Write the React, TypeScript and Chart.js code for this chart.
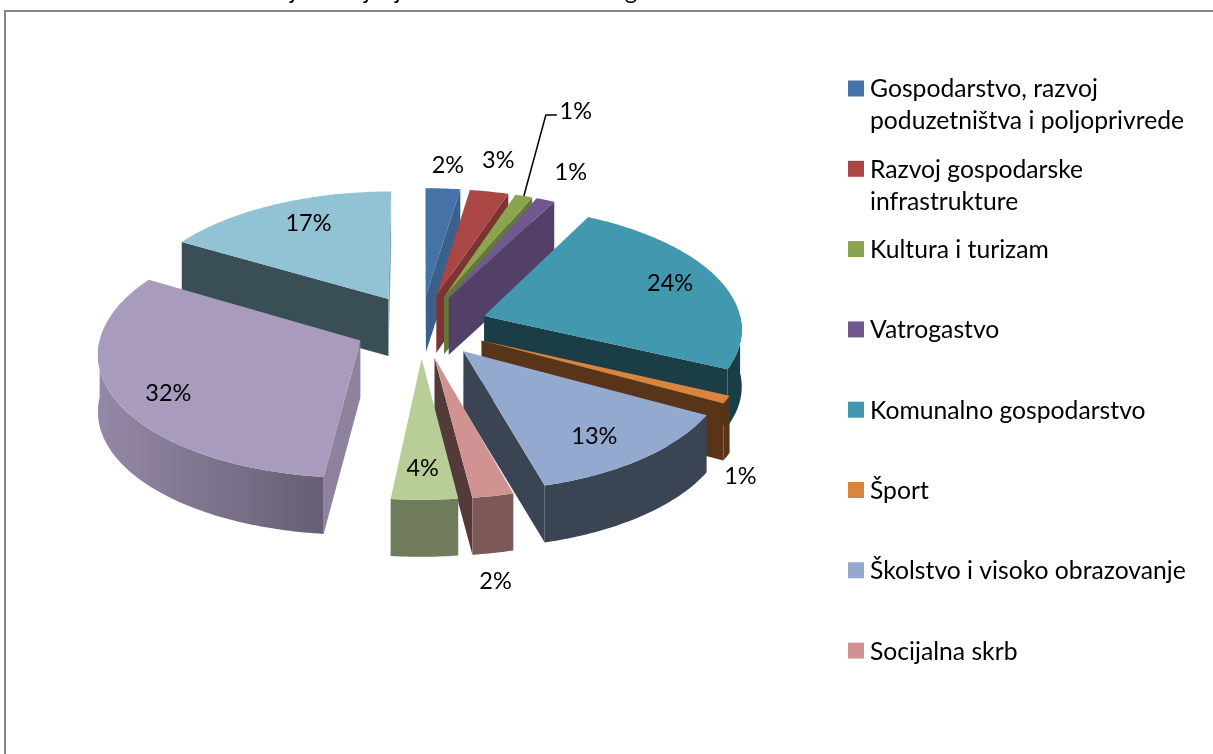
import React, { useEffect, useRef } from "react";
import { Chart, registerables } from "chart.js";

Chart.register(...registerables);

const categories = [
  "Gospodarstvo, razvoj poduzetništva i poljoprivrede",
  "Razvoj gospodarske infrastrukture",
  "Kultura i turizam",
  "Vatrogastvo",
  "Komunalno gospodarstvo",
  "Šport",
  "Školstvo i visoko obrazovanje",
  "Socijalna skrb",
  "",
  "",
  "",
];
const legendLines = [
  ["Gospodarstvo, razvoj", "poduzetništva i poljoprivrede"],
  ["Razvoj gospodarske", "infrastrukture"],
  ["Kultura i turizam"],
  ["Vatrogastvo"],
  ["Komunalno gospodarstvo"],
  ["Šport"],
  ["Školstvo i visoko obrazovanje"],
  ["Socijalna skrb"],
];
const shares = [2.4, 2.7, 1.2, 1.3, 24.4, 1.0, 12.7, 2.3, 3.7, 31.8, 16.5];
const colors = ["#4572A7", "#AA4643", "#89A54E", "#71588F", "#4198AF", "#DB843D", "#93A9CF", "#D19392", "#B9CD96", "#A99BBD", "#91C3D5"];
const clippedTitleGlyphs = ["j", "j", "j", "g"];

const FONT = "Lato, sans-serif";
const EXPLODE = 0.26;
const SQUASH = 0.473;
const PERSP = 0.0915;
const DEPTH = 57;
const RAD = Math.PI / 180;

function tint(hex: string, f: number) {
  const n = parseInt(hex.slice(1), 16);
  const c = [(n >> 16) & 255, (n >> 8) & 255, n & 255].map((v) => Math.round(v * f));
  return `rgb(${c[0]},${c[1]},${c[2]})`;
}
function outerShade(deg: number, midDeg: number) {
  if (midDeg < 165) return 0.4;
  if (midDeg < 190) return 0.6;
  if (deg < 270) return 0.62 + ((deg - 190) / 80) * 0.26;
  return 0.88;
}

const pie3d = {
  id: "pie3d",
  beforeDatasetDraw(chart: any) {
    const ctx: CanvasRenderingContext2D = chart.ctx;
    const arcs = chart.getDatasetMeta(0).data;
    const slices = arcs.map((el: any, i: number) => {
      const p = el.getProps(["x", "y", "startAngle", "endAngle", "outerRadius"], true);
      const a0 = p.startAngle + Math.PI / 2;
      const a1 = p.endAngle + Math.PI / 2;
      const mid = (a0 + a1) / 2;
      const ax = Math.sin(mid) * EXPLODE;
      const ay = -Math.cos(mid) * EXPLODE;
      const at = (r: number, t: number) => {
        const X = ax + r * Math.sin(t);
        const Y = ay - r * Math.cos(t);
        const s = 1 / (1 - PERSP * Y);
        return [p.x + X * p.outerRadius * s, p.y + Y * p.outerRadius * SQUASH * s];
      };
      const apex = at(0, 0);
      const mOut = at(1, mid);
      return { i, a0, a1, mid, at, apex, mOut, sort: (apex[1] + mOut[1]) / 2 };
    });
    const poly = (pts: number[][], fill: any) => {
      ctx.beginPath();
      pts.forEach((q, k) => (k ? ctx.lineTo(q[0], q[1]) : ctx.moveTo(q[0], q[1])));
      ctx.closePath();
      ctx.fillStyle = fill;
      ctx.fill();
    };
    const arcPts = (s: any, from: number, to: number) => {
      const n = Math.max(2, Math.ceil((to - from) / (1 * RAD)));
      const out: number[][] = [];
      for (let k = 0; k <= n; k++) out.push(s.at(1, from + ((to - from) * k) / n));
      return out;
    };
    [...slices].sort((a, b) => a.sort - b.sort).forEach((s: any) => {
      const base = colors[s.i];
      [
        { t: s.a0, n: s.a0 / RAD - 90 },
        { t: s.a1, n: s.a1 / RAD + 90 },
      ].forEach(({ t, n }) => {
        const q = s.at(1, t);
        const P = s.apex;
        const dx = q[0] - P[0];
        if (Math.abs(dx) < 0.01) return;
        const lineY = P[1] + ((q[1] - P[1]) / dx) * (s.mOut[0] - P[0]);
        if (lineY <= s.mOut[1]) return;
        const nn = ((n % 360) + 360) % 360;
        const f = nn < 100 ? 0.84 : nn < 130 ? 0.73 : 0.4;
        poly([P, q, [q[0], q[1] + DEPTH], [P[0], P[1] + DEPTH]], tint(base, f));
      });
      const from = Math.max(s.a0, 90 * RAD);
      const to = Math.min(s.a1, 270 * RAD);
      if (to > from) {
        const top = arcPts(s, from, to);
        const low = top.map((q: number[]) => [q[0], q[1] + DEPTH]).reverse();
        const x0 = top[0][0];
        const x1 = top[top.length - 1][0];
        const g = ctx.createLinearGradient(x0, 0, x1, 0);
        for (let k = 0; k <= 6; k++) {
          const d = from + ((to - from) * k) / 6;
          g.addColorStop(k / 6, tint(base, outerShade(d / RAD, s.mid / RAD)));
        }
        poly([...top, ...low], g);
      }
      poly([s.apex, ...arcPts(s, s.a0, s.a1)], base);
    });

    // slice percentage labels, anchored to each slice's apex
    const labelShift = [[22, -130], [62, -135], [0, 0], [122, -125], [186, -32], [259, 136], [131, 85], [61, 224], [1, 110], [-192, 53], [-80, -76]];
    ctx.fillStyle = "#000";
    ctx.font = `23.5px ${FONT}`;
    ctx.textAlign = "center";
    ctx.textBaseline = "middle";
    const total = shares.reduce((a, b) => a + b, 0);
    slices.forEach((s: any) => {
      const pct = `${Math.round((shares[s.i] / total) * 100)}%`;
      if (s.i === 2) {
        const tip = s.at(1, s.mid);
        ctx.save();
        ctx.strokeStyle = "#000";
        ctx.lineWidth = 1.5;
        ctx.beginPath();
        ctx.moveTo(tip[0], tip[1]);
        ctx.lineTo(tip[0] + 22, tip[1] - 81);
        ctx.lineTo(tip[0] + 33, tip[1] - 81);
        ctx.stroke();
        ctx.restore();
        ctx.fillText(pct, tip[0] + 52, tip[1] - 85);
      } else {
        ctx.fillText(pct, s.apex[0] + labelShift[s.i][0], s.apex[1] + labelShift[s.i][1]);
      }
    });
    return false;
  },
  afterDraw(chart: any) {
    const ctx: CanvasRenderingContext2D = chart.ctx;
    ctx.save();
    ctx.strokeStyle = "#868686";
    ctx.lineWidth = 2;
    ctx.beginPath();
    ctx.moveTo(5, chart.height);
    ctx.lineTo(5, 11);
    ctx.lineTo(chart.width, 11);
    ctx.stroke();

    ctx.fillStyle = "#000";
    ctx.textAlign = "center";
    ctx.textBaseline = "alphabetic";
    ctx.font = `24px ${FONT}`;
    [293, 367, 398, 631].forEach((x, i) => ctx.fillText(clippedTitleGlyphs[i], x, -1));

    ctx.font = `24.7px ${FONT}`;
    ctx.textAlign = "left";
    ctx.textBaseline = "middle";
    legendLines.forEach((lines, i) => {
      const y = 88.5 + i * 80.3;
      ctx.fillStyle = colors[i];
      ctx.fillRect(848, y - 8, 16, 16);
      ctx.fillStyle = "#000";
      lines.forEach((t, k) => ctx.fillText(t, 870, y + 1 + k * 32));
    });
    ctx.restore();
  },
};

export default function App() {
  const ref = useRef<HTMLCanvasElement>(null);
  useEffect(() => {
    const chart = new Chart(ref.current!, {
      type: "pie",
      data: {
        labels: categories,
        datasets: [{ data: shares, backgroundColor: colors, borderWidth: 0 }],
      },
      options: {
        responsive: false,
        animation: false,
        layout: { padding: { left: 163, right: 534, top: 68, bottom: 170 } },
        plugins: { legend: { display: false }, tooltip: { enabled: false } },
      },
      plugins: [pie3d],
    } as any);
    return () => chart.destroy();
  }, []);
  return (
    <div style={{ position: "fixed", left: 0, top: 0, width: 1213, height: 754, background: "#fff" }}>
      <canvas ref={ref} width={1213} height={754} style={{ display: "block" }} />
    </div>
  );
}
